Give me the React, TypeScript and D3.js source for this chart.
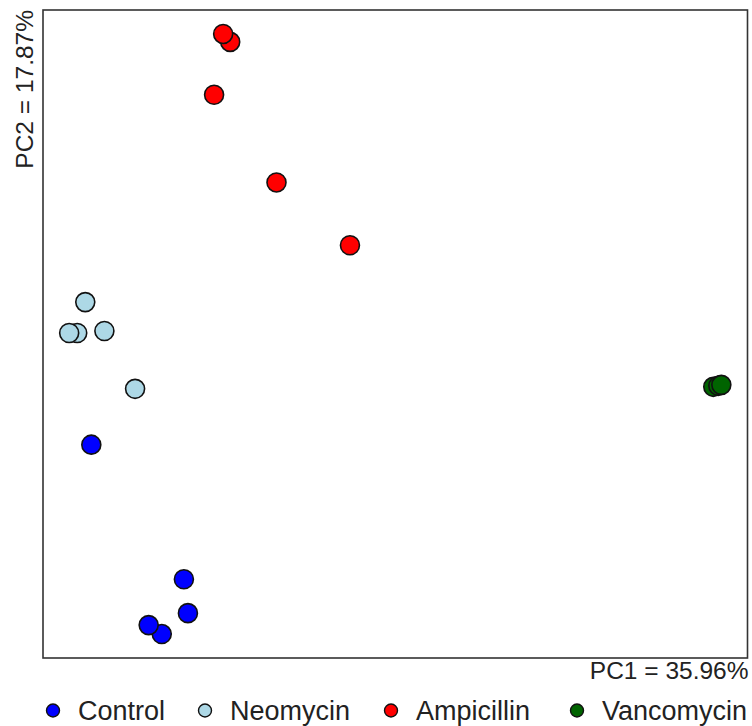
import React from "react";
import * as d3 from "d3";

const groups = ["Control", "Neomycin", "Ampicillin", "Vancomycin"];
const groupColors = ["#0000FF", "#ADD8E6", "#FF0000", "#006400"];

const controlPC1 = [-0.202, -0.110, -0.106, -0.132, -0.145];
const controlPC2 = [-0.086, -0.221, -0.255, -0.276, -0.267];
const neomycinPC1 = [-0.208, -0.216, -0.224, -0.189, -0.1585];
const neomycinPC2 = [0.057, 0.026, 0.026, 0.028, -0.030];
const ampicillinPC1 = [-0.064, -0.071, -0.080, -0.018, 0.055];
const ampicillinPC2 = [0.318, 0.326, 0.265, 0.177, 0.114];
const vancomycinPC1 = [0.416, 0.421, 0.424];
const vancomycinPC2 = [-0.028, -0.027, -0.026];

const pc1Label = "PC1 = 35.96%";
const pc2Label = "PC2 = 17.87%";

const xDomain = [-0.25, 0.45];
const yDomain = [-0.3, 0.35];

const W = 752;
const H = 726;
const box = { left: 43, right: 747.5, top: 10, bottom: 658 };

export default function App() {
  const x = d3.scaleLinear().domain(xDomain).range([box.left, box.right]);
  const y = d3.scaleLinear().domain(yDomain).range([box.bottom, box.top]);

  const series = [
    { pc1: neomycinPC1, pc2: neomycinPC2, g: 1 },
    { pc1: controlPC1, pc2: controlPC2, g: 0 },
    { pc1: ampicillinPC1, pc2: ampicillinPC2, g: 2 },
    { pc1: vancomycinPC1, pc2: vancomycinPC2, g: 3 },
  ];

  const legendX = [53, 205, 391, 577];

  return (
    <svg
      width={W}
      height={H}
      style={{ position: "absolute", left: 0, top: 0, fontFamily: "Liberation Sans, Arial, sans-serif" }}
    >
      <rect x={0} y={0} width={W} height={H} fill="#fff" />
      <rect
        x={box.left}
        y={box.top}
        width={box.right - box.left}
        height={box.bottom - box.top}
        fill="none"
        stroke="#333"
        strokeWidth={1.6}
      />
      {series.map((s) =>
        s.pc1.map((v, i) => (
          <circle
            key={`${s.g}-${i}`}
            cx={x(v)}
            cy={y(s.pc2[i])}
            r={9.5}
            fill={groupColors[s.g]}
            stroke="#111"
            strokeWidth={1.6}
          />
        ))
      )}
      <text x={box.right + 1} y={679} textAnchor="end" fontSize={24.5} fill="#222">
        {pc1Label}
      </text>
      <text
        transform={`translate(33, ${box.top}) rotate(-90)`}
        textAnchor="end"
        fontSize={24.5}
        fill="#222"
      >
        {pc2Label}
      </text>
      {groups.map((g, i) => (
        <g key={g}>
          <circle cx={legendX[i]} cy={710.5} r={6.5} fill={groupColors[i]} stroke="#111" strokeWidth={1.4} />
          <text x={legendX[i] + 25} y={719.5} fontSize={27} fill="#222">
            {g}
          </text>
        </g>
      ))}
    </svg>
  );
}
